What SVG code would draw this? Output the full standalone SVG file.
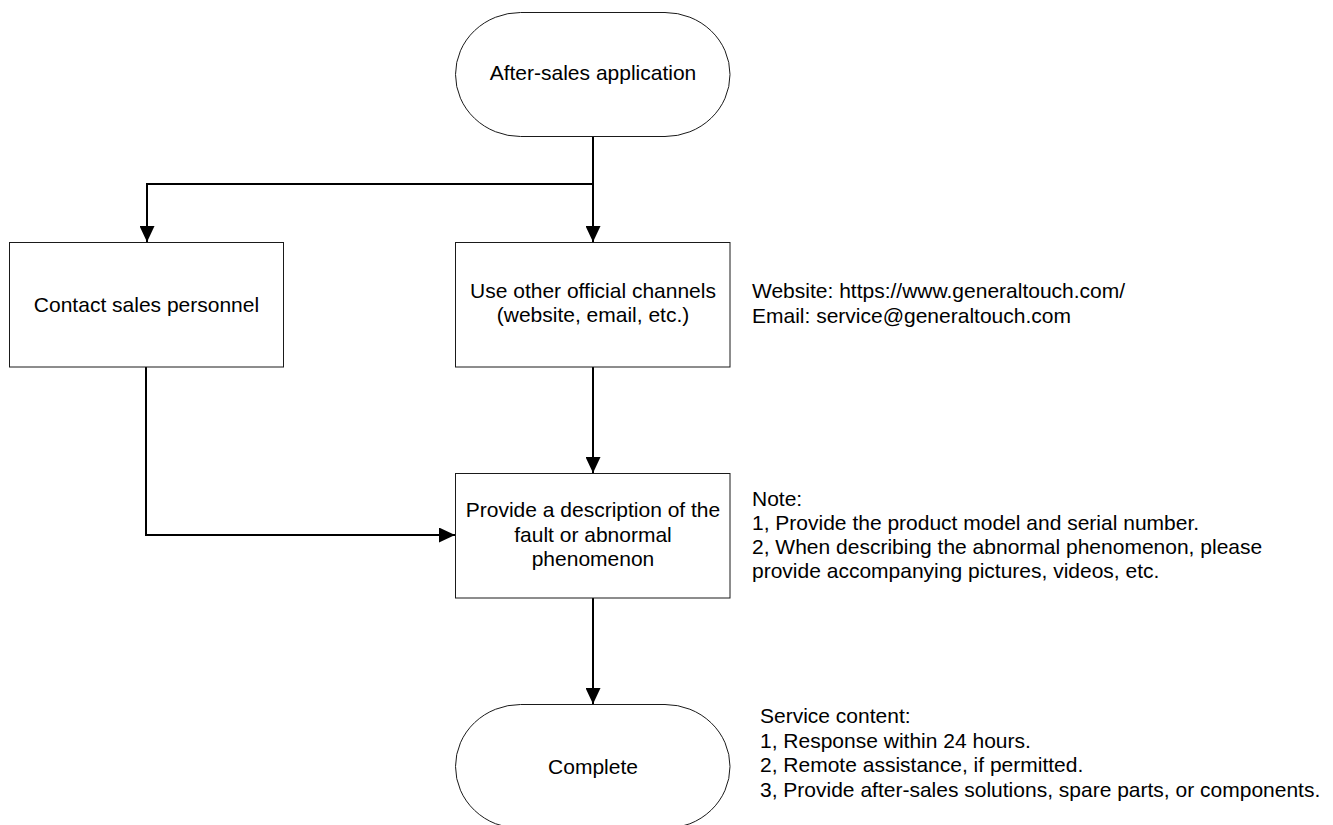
<svg xmlns="http://www.w3.org/2000/svg" width="1333" height="825" viewBox="0 0 1333 825">
  <style>
    .node { fill: #ffffff; stroke: #1a1a1a; stroke-width: 1; }
    .lbl { font-family: "Liberation Sans", Arial, sans-serif; font-size: 21px; fill: #000000; }
    .mid { text-anchor: middle; }
    .conn { fill: none; stroke: #000000; stroke-width: 2; }
  </style>
  <defs>
    <marker id="arrow" markerUnits="userSpaceOnUse" markerWidth="16" markerHeight="15" refX="16" refY="7.5" orient="auto">
      <path d="M0,0 L16,7.5 L0,15 z" fill="#000000"/>
    </marker>
  </defs>
  <rect x="0" y="0" width="1333" height="825" fill="#ffffff"/>

  <g id="connectors">
    <path class="conn" d="M593,136 V242" marker-end="url(#arrow)"/>
    <path class="conn" d="M593,184 H147 V242" marker-end="url(#arrow)"/>
    <path class="conn" d="M593,367 V473" marker-end="url(#arrow)"/>
    <path class="conn" d="M146,367 V535 H455" marker-end="url(#arrow)"/>
    <path class="conn" d="M593,598 V704" marker-end="url(#arrow)"/>
  </g>

  <g id="start">
    <rect class="node" x="455.5" y="12.5" width="274.5" height="124" rx="65" ry="62"/>
    <text class="lbl mid" x="593" y="80">After-sales application</text>
  </g>

  <g id="contact">
    <rect class="node" x="9.5" y="242.5" width="274" height="124.5"/>
    <text class="lbl mid" x="146.5" y="312">Contact sales personnel</text>
  </g>

  <g id="channels">
    <rect class="node" x="455.5" y="242.5" width="274.5" height="124.5"/>
    <text class="lbl mid" x="593" y="298">Use other official channels</text>
    <text class="lbl mid" x="593" y="322">(website, email, etc.)</text>
  </g>

  <g id="channels-note">
    <text class="lbl" x="752" y="298">Website: https://www.generaltouch.com/</text>
    <text class="lbl" x="752" y="322.5">Email: service@generaltouch.com</text>
  </g>

  <g id="describe">
    <rect class="node" x="455.5" y="473.5" width="274.5" height="124.5"/>
    <text class="lbl mid" x="593" y="517">Provide a description of the</text>
    <text class="lbl mid" x="593" y="541.5">fault or abnormal</text>
    <text class="lbl mid" x="593" y="566">phenomenon</text>
  </g>

  <g id="describe-note">
    <text class="lbl" x="752" y="505.5">Note:</text>
    <text class="lbl" x="752" y="529.5">1, Provide the product model and serial number.</text>
    <text class="lbl" x="752" y="553.5">2, When describing the abnormal phenomenon, please</text>
    <text class="lbl" x="752" y="577.5">provide accompanying pictures, videos, etc.</text>
  </g>

  <g id="complete">
    <rect class="node" x="455.5" y="704.5" width="274.5" height="124" rx="65" ry="62"/>
    <text class="lbl mid" x="593" y="774">Complete</text>
  </g>

  <g id="complete-note">
    <text class="lbl" x="760" y="723">Service content:</text>
    <text class="lbl" x="760" y="747.5">1, Response within 24 hours.</text>
    <text class="lbl" x="760" y="772">2, Remote assistance, if permitted.</text>
    <text class="lbl" x="760" y="796.5">3, Provide after-sales solutions, spare parts, or components.</text>
  </g>
</svg>
